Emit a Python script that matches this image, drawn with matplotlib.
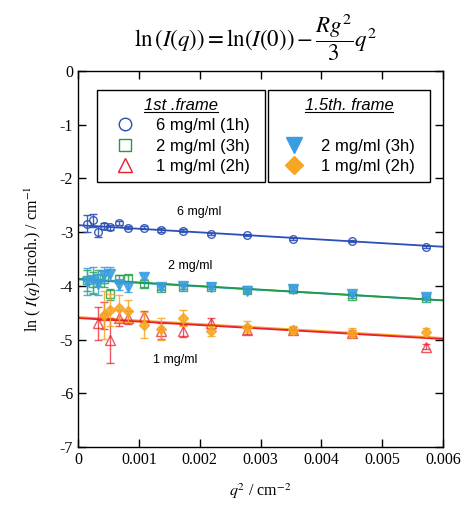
import numpy as np
import matplotlib
matplotlib.use('Agg')
import matplotlib.pyplot as plt
from matplotlib.lines import Line2D

plt.rcParams['mathtext.fontset'] = 'stix'
plt.rcParams['axes.unicode_minus'] = False

# q^2 positions (cm^-2)
q2 = [0.00015, 0.00025, 0.00033, 0.00042, 0.00053, 0.00067, 0.00083, 0.00108,
      0.00136, 0.00173, 0.00219, 0.00278, 0.00354, 0.00450, 0.00572]

# 1st frame
y6 = [-2.84, -2.78, -2.99, -2.89, -2.91, -2.83, -2.92, -2.92, -2.96, -2.97, -3.03, -3.05, -3.12, -3.16, -3.27]
e6 = [0.15, 0.12, 0.10, 0.06, 0.05, 0.04, 0.03, 0.03, 0.03, 0.02, 0.02, 0.02, 0.02, 0.02, 0.02]
y2 = [-3.90, -3.95, -3.85, -3.87, -4.16, -3.87, -3.85, -3.97, -4.04, -4.02, -4.03, -4.08, -4.06, -4.19, -4.23]
e2 = [0.20, 0.20, 0.15, 0.15, 0.10, 0.08, 0.06, 0.05, 0.04, 0.03, 0.03, 0.03, 0.03, 0.03, 0.03]
q2_1 = q2[2:]
y1 = [-4.70, -4.55, -5.01, -4.60, -4.59, -4.57, -4.84, -4.84, -4.70, -4.82, -4.82, -4.88, -5.13]
e1 = [0.30, 0.25, 0.42, 0.15, 0.12, 0.10, 0.15, 0.12, 0.10, 0.08, 0.06, 0.06, 0.05]

# 1.5th frame
y2b = [-3.92, -3.89, -3.97, -3.80, -3.77, -3.98, -4.03, -3.83, -4.02, -4.01, -4.02, -4.10, -4.05, -4.15, -4.21]
e2b = [0.25, 0.25, 0.20, 0.15, 0.12, 0.10, 0.08, 0.05, 0.04, 0.04, 0.03, 0.03, 0.03, 0.03, 0.03]
q2_1b = q2[3:]
y1b = [-4.54, -4.45, -4.42, -4.47, -4.73, -4.80, -4.60, -4.84, -4.76, -4.82, -4.87, -4.86]
e1b = [0.45, 0.30, 0.25, 0.20, 0.25, 0.20, 0.15, 0.10, 0.10, 0.08, 0.08, 0.08]

# Guinier fit lines: (ln I(0), slope)
fit6 = (-2.87, -67.0)
fit2 = (-3.87, -66.7)
fit2b = (-3.88, -65.0)
fit1 = (-4.60, -65.0)
fit1b = (-4.58, -65.0)

c_blue = '#2a4fb5'
c_green = '#1f9a45'
c_red = '#e8202e'
c_cyan = '#3a9de0'
c_orange = '#f5a623'

fig = plt.figure(figsize=(4.65, 5.07), dpi=100)
ax = fig.add_axes([78/465, 1-447/507, (443-78)/465, (447-71)/507])

xf = np.array([0, 0.006])
for (a, b), c in [(fit2b, c_cyan), (fit2, c_green), (fit6, c_blue), (fit1b, c_orange), (fit1, c_red)]:
    ax.plot(xf, a + b*xf, color=c, lw=1.3, zorder=2)

ms = 5.5
ax.errorbar(q2, y6, yerr=e6, fmt='o', mfc='none', mec=c_blue, ecolor=c_blue, ms=ms, mew=1,
            capsize=3, elinewidth=1, alpha=0.9, zorder=3)
ax.errorbar(q2, y2, yerr=e2, fmt='s', mfc='none', mec=c_green, ecolor=c_green, ms=ms, mew=1,
            capsize=3, elinewidth=1, alpha=0.8, zorder=3)
ax.errorbar(q2_1, y1, yerr=e1, fmt='^', mfc='none', mec=c_red, ecolor=c_red, ms=ms+1, mew=1,
            capsize=3, elinewidth=1, alpha=0.75, zorder=3)
ax.errorbar(q2, y2b, yerr=e2b, fmt='v', color=c_cyan, ms=ms+1, capsize=3, elinewidth=1,
            alpha=0.85, zorder=4)
ax.errorbar(q2_1b, y1b, yerr=e1b, fmt='D', color=c_orange, ms=ms, capsize=3, elinewidth=1,
            alpha=0.85, zorder=4)

ax.set_xlim(0, 0.006)
ax.set_ylim(-7, 0)
ax.set_xticks(np.arange(0, 0.0061, 0.001))
ax.set_xticklabels(['0', '0.001', '0.002', '0.003', '0.004', '0.005', '0.006'])
ax.set_yticks(range(-7, 1))
ax.tick_params(direction='in', top=True, right=True, length=6, width=1,
               labelsize=11.5, labelfontfamily='Liberation Serif')
for s in ax.spines.values():
    s.set_linewidth(1)

ax.set_xlabel(r'$q^2$ / cm$^{-2}$', fontsize=11.5, family='Liberation Serif', labelpad=10)
ax.set_ylabel(r'ln ( $I$($q$)-incoh.) / cm$^{-1}$', fontsize=11.5, family='Liberation Serif', labelpad=12)

fig.text(0.55, 0.927, r'$\ln\left(I(q)\right) = \ln(I(0)) - \dfrac{Rg^2}{3}q^2$',
         ha='center', va='center', fontsize=16.5)

ax.text(0.0020, -2.63, '6 mg/ml', fontsize=9, ha='center', va='center', family='Liberation Sans')
ax.text(0.00184, -3.63, '2 mg/ml', fontsize=9, ha='center', va='center', family='Liberation Sans')
ax.text(0.0016, -5.38, '1 mg/ml', fontsize=9, ha='center', va='center', family='Liberation Sans')

# legends
lfont = {'family': 'Liberation Sans', 'size': 12}
tfont = {'family': 'Liberation Sans', 'size': 12, 'style': 'italic'}
h1 = [Line2D([], [], ls='none', marker='o', mfc='none', mec=c_blue, ms=9),
      Line2D([], [], ls='none', marker='s', mfc='none', mec=c_green, ms=9),
      Line2D([], [], ls='none', marker='^', mfc='none', mec=c_red, ms=10)]
leg1 = ax.legend(h1, ['6 mg/ml (1h)', '2 mg/ml (3h)', '1 mg/ml (2h)'],
                 loc='upper left', bbox_to_anchor=(19/365, 1-23/376, 168/365, 0.01), mode='expand',
                 prop=lfont, title='1st .frame', title_fontproperties=tfont,
                 frameon=True, fancybox=False, edgecolor='black', framealpha=1,
                 handletextpad=0.7, labelspacing=0.33, borderpad=0.45, handlelength=2.4,
                 borderaxespad=0)
leg1.get_frame().set_linewidth(1)
ax.add_artist(leg1)
h2 = [Line2D([], [], ls='none'),
      Line2D([], [], ls='none', marker='v', color=c_cyan, ms=12),
      Line2D([], [], ls='none', marker='D', color=c_orange, ms=9)]
leg2 = ax.legend(h2, [' ', '2 mg/ml (3h)', '1 mg/ml (2h)'],
                 loc='upper left', bbox_to_anchor=(190/365, 1-23/376, 162/365, 0.01), mode='expand',
                 prop=lfont, title='1.5th. frame', title_fontproperties=tfont,
                 frameon=True, fancybox=False, edgecolor='black', framealpha=1,
                 handletextpad=0.55, labelspacing=0.33, borderpad=0.45, handlelength=2.2,
                 borderaxespad=0)
leg2.get_frame().set_linewidth(1)

# underline legend titles
fig.canvas.draw()
inv = fig.transFigure.inverted()
for lg in (leg1, leg2):
    bb = lg.get_title().get_window_extent()
    (x0, y0), (x1, _) = inv.transform([[bb.x0, bb.y0], [bb.x1, bb.y1]])
    fig.add_artist(Line2D([x0, x1], [y0 + 0.002, y0 + 0.002], color='black', lw=0.8,
                          transform=fig.transFigure))

fig.savefig('out.png', dpi=100)
